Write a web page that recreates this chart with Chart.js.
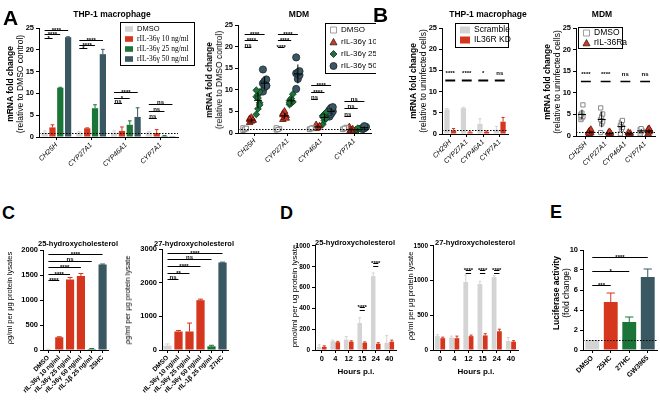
<!DOCTYPE html>
<html>
<head>
<meta charset="utf-8">
<script src="https://cdn.jsdelivr.net/npm/chart.js@4.4.0/dist/chart.umd.min.js"></script>
<style>
body { margin: 0; width: 660px; height: 403px; position: relative; overflow: hidden; background: #fff;
       font-family: 'Liberation Sans', Arial, sans-serif; color: #000; }
canvas { position: absolute; }
.t { position: absolute; white-space: nowrap; }
.letter { font-weight: bold; line-height: 20px; }
.title { font-weight: bold; font-size: 8.5px; transform: translate(-50%, -50%); }
.vl { transform: translate(-50%, -50%) rotate(-90deg); text-align: center; font-size: 8.5px; line-height: 10px; }
</style>
</head>
<body>
<script>
// ---------- data ----------
const genes = ['CH25H', 'CYP27A1', 'CYP46A1', 'CYP7A1'];

// A: THP-1 macrophage, mean and error
const thpDmso = [1, 1, 1, 1];
const thpDmsoErr = [0.4, 0.2, 0.4, 0.2];
const thp10 = [2.2, 2.0, 1.4, 0.9];
const thp10Err = [0.6, 0.1, 0.9, 0.8];
const thp25 = [11.3, 6.6, 2.8, 0.25];
const thp25Err = [0.1, 0.8, 0.9, 0.1];
const thp50 = [22.9, 19.0, 4.6, 0.05];
const thp50Err = [0.1, 1.1, 2.1, 0];

// A: MDM donors, one list per gene
const mdmDmso = [[0.6, 0.8, 1.0, 1.2, 0.9, 1.1], [0.7, 0.9, 1.0, 1.2, 0.8], [0.8, 1.0, 1.2, 0.9, 1.1], [0.8, 1.0, 1.3, 0.9, 1.1]];
const mdm10 = [[2.4, 2.7, 3.0, 3.3, 3.6, 2.9, 3.1], [3.1, 3.6, 4.0, 4.5, 5.0, 3.4, 4.2], [1.0, 1.3, 1.6, 1.9, 1.2], [0.2, 0.5, 0.9, 1.4, 0.7]];
const mdm25 = [[4.3, 5.6, 7.0, 8.4, 8.8, 9.5, 9.9, 8.1, 6.5], [6.6, 6.9, 7.2, 7.5, 8.0, 9.0, 7.0], [2.0, 2.9, 3.4, 4.0, 4.4, 4.8, 3.7], [0.4, 0.7, 1.0, 0.8, 1.1]];
const mdm50 = [[9.6, 10.6, 11.0, 11.5, 12.0, 12.4, 14.7, 11.2, 10.9], [10.2, 12.5, 13.4, 13.8, 14.0, 14.3, 17.5], [3.8, 4.4, 5.0, 5.3, 5.8, 6.0, 4.8], [0.9, 1.1, 1.4, 1.2, 1.6]];

// B: THP-1 knockdown
const kdScr = [5.8, 6.1, 2.4, 1.0];
const kdScrErr = [0.2, 0.2, 1.2, 0.8];
const kdKd = [0.7, 0.4, 0.5, 2.9];
const kdKdErr = [0.6, 0.1, 0.2, 1.0];
const kdSig = ['****', '****', '*', 'ns'];

// B: MDM with IL-36Ra
const raDmso = [[3.8, 4.2, 4.5, 5.0, 5.3, 7.2, 4.8], [0.8, 2.8, 3.3, 3.8, 4.5, 5.1, 6.5], [0.5, 1.5, 2.0, 2.5, 3.2, 3.6], [0.5, 1.0, 1.2, 1.5, 1.7]];
const raRa = [[0.3, 0.5, 0.8, 1.0, 1.2, 1.5, 0.7], [0.2, 0.4, 0.6, 0.8, 1.0], [0.2, 0.4, 0.6, 0.8], [0.5, 0.9, 1.2, 1.5, 1.7]];
const raSig = ['****', '****', 'ns', 'ns'];

// C: oxysterol levels
const c25Labels = ['DMSO', 'rIL-36γ 10 ng/ml', 'rIL-36γ 25 ng/ml', 'rIL-36γ 50 ng/ml', 'rIL-1β 25 ng/ml', '25HC'];
const c25Vals = [10, 255, 1410, 1480, 20, 1710];
const c25Err = [5, 10, 40, 50, 10, 10];
const c25Sig = ['****', '****', '****', 'ns', '****'];
const c25SigY = [1400, 1530, 1660, 1790, 1920];
const c27Labels = ['DMSO', 'rIL-36γ 10 ng/ml', 'rIL-36γ 25 ng/ml', 'rIL-36γ 50 ng/ml', 'rIL-1β 25 ng/ml', '27HC'];
const c27Vals = [130, 550, 550, 1480, 110, 2600];
const c27Err = [50, 30, 250, 30, 30, 10];
const c27Sig = ['ns', '**', '****', 'ns', '****'];
const c27SigY = [2110, 2300, 2490, 2690, 2880];

// D: time course
const hours = ['0', '4', '12', '15', '24', '40'];
const d25Scr = [30, 85, 100, 260, 710, 70];
const d25ScrErr = [20, 10, 30, 50, 30, 70];
const d25Kd = [30, 75, 80, 70, 60, 80];
const d25KdErr = [10, 8, 8, 8, 10, 15];
const d27Scr = [200, 180, 980, 950, 1050, 130];
const d27ScrErr = [20, 20, 100, 40, 20, 50];
const d27Kd = [170, 170, 200, 210, 270, 120];
const d27KdErr = [15, 30, 15, 25, 30, 15];

// E: luciferase
const eLabels = ['DMSO', '25HC', '27HC', 'GW3965'];
const eVals = [1, 4.8, 2.8, 7.3];
const eErr = [0, 0.9, 0.5, 0.8];
const eSig = ['***', '*', '****'];
const eSigY = [6.5, 7.9, 9.3];

// ---------- style ----------
const GRAY = '#d4d4d4', RED = '#d6361d', GREEN = '#1c7538', SLATE = '#3a5862';
const FONT = "'Liberation Sans', Arial, sans-serif";
Chart.defaults.font.family = FONT;
Chart.defaults.font.size = 7.5;
Chart.defaults.color = '#000';

const numFont = { size: 7.5, weight: 'bold' };
const smallNum = { size: 6.5, weight: 'bold' };
const geneFont = { size: 7, style: 'italic' };

function text(html, x, y, cls, style) {
    const d = document.createElement('div');
    d.className = 't ' + cls;
    d.innerHTML = html;
    d.style.left = x + 'px';
    d.style.top = y + 'px';
    if (style) d.style.cssText += style;
    document.body.appendChild(d);
}

function drawSym(ctx, sym, x, y, color, s) {
    ctx.beginPath();
    if (sym === 'bar') {
        ctx.fillStyle = color;
        ctx.fillRect(x, y - s * 0.35, s, s * 0.7);
        return;
    }
    const cx = x + s / 2, r = s / 2;
    if (sym === 'square') ctx.rect(cx - r + 0.5, y - r + 0.5, s - 1, s - 1);
    if (sym === 'tri') { ctx.moveTo(cx, y - r); ctx.lineTo(cx + r, y + r * 0.8); ctx.lineTo(cx - r, y + r * 0.8); ctx.closePath(); }
    if (sym === 'dia') { ctx.moveTo(cx, y - r); ctx.lineTo(cx + r, y); ctx.lineTo(cx, y + r); ctx.lineTo(cx - r, y); ctx.closePath(); }
    if (sym === 'circ') ctx.arc(cx, y, r, 0, Math.PI * 2);
    ctx.fillStyle = sym === 'square' ? '#fff' : color;
    ctx.strokeStyle = sym === 'square' ? '#888' : '#222';
    ctx.lineWidth = 0.8;
    ctx.fill();
    ctx.stroke();
}

// error bars, mean/sd marks, dotted reference line, significance bars, boxed legend
const extras = {
    id: 'extras',
    afterDatasetsDraw(chart, args, o) {
        const ctx = chart.ctx, xs = chart.scales.x, ys = chart.scales.y, ca = chart.chartArea;
        ctx.save();
        ctx.lineWidth = 1;
        chart.data.datasets.forEach((ds, di) => {
            if (!ds.err) return;
            chart.getDatasetMeta(di).data.forEach((el, i) => {
                const e = ds.err[i];
                if (!e) return;
                const col = Array.isArray(ds.backgroundColor) ? ds.backgroundColor[i] : ds.backgroundColor;
                const top = ys.getPixelForValue(ds.data[i] + e);
                const w = Math.max(1.5, el.width * 0.3);
                ctx.strokeStyle = col;
                ctx.beginPath();
                ctx.moveTo(el.x, el.y);
                ctx.lineTo(el.x, top);
                ctx.moveTo(el.x - w, top);
                ctx.lineTo(el.x + w, top);
                ctx.stroke();
            });
        });
        (o.stats || []).forEach(g => {
            const n = g.vals.length, m = g.vals.reduce((a, b) => a + b, 0) / n;
            const sd = Math.sqrt(g.vals.reduce((a, b) => a + (b - m) ** 2, 0) / (n - 1));
            const px = xs.getPixelForValue(g.x);
            ctx.strokeStyle = '#000';
            ctx.beginPath();
            ctx.moveTo(px, ys.getPixelForValue(m - sd));
            ctx.lineTo(px, ys.getPixelForValue(m + sd));
            ctx.moveTo(px - 4, ys.getPixelForValue(m));
            ctx.lineTo(px + 4, ys.getPixelForValue(m));
            ctx.stroke();
        });
        if (o.ref != null) {
            const py = Math.round(ys.getPixelForValue(o.ref)) + 0.5;
            ctx.strokeStyle = '#000';
            ctx.setLineDash([1.5, 1.5]);
            ctx.beginPath();
            ctx.moveTo(ca.left, py);
            ctx.lineTo(ca.right, py);
            ctx.stroke();
            ctx.setLineDash([]);
        }
        ctx.font = 'bold ' + (o.sigSize || 6) + 'px ' + FONT;
        ctx.textAlign = 'center';
        ctx.textBaseline = 'alphabetic';
        ctx.fillStyle = '#000';
        (o.sig || []).forEach(([a, b, v, lab, lv]) => {
            const x1 = xs.getPixelForValue(a), x2 = xs.getPixelForValue(b);
            const py = Math.round(ys.getPixelForValue(v)) + 0.5;
            ctx.strokeStyle = '#000';
            ctx.lineWidth = o.sigWidth || 1;
            ctx.beginPath();
            ctx.moveTo(x1, py);
            ctx.lineTo(x2, py);
            ctx.stroke();
            if (!lab) return;
            const ty = lv != null ? ys.getPixelForValue(lv) : py - 1 + (lab.includes('*') ? 2 : 0);
            ctx.fillText(lab, (x1 + x2) / 2, ty);
        });
        ctx.restore();
    },
    afterDraw(chart, args, o) {
        const L = o.legend;
        if (!L) return;
        const ctx = chart.ctx, x0 = L.x - o.ox, y0 = L.y - o.oy;
        ctx.save();
        ctx.fillStyle = '#fff';
        ctx.fillRect(x0, y0, L.w, L.h);
        ctx.strokeStyle = '#000';
        ctx.lineWidth = 1;
        ctx.strokeRect(x0 + 0.5, y0 + 0.5, L.w, L.h);
        L.items.forEach((it, i) => {
            const cy = y0 + L.pad + L.gap * (i + 0.5);
            drawSym(ctx, it.sym, x0 + 5, cy, it.color, L.s);
            let tx = x0 + 5 + L.s + 4;
            ctx.textBaseline = 'middle';
            ctx.textAlign = 'left';
            ctx.fillStyle = '#000';
            (Array.isArray(it.text) ? it.text : [{ t: it.text }]).forEach(p => {
                ctx.font = (p.i ? 'italic ' : '') + L.fs + 'px ' + (it.serif ? "'Liberation Serif', serif" : FONT);
                ctx.fillText(p.t, tx, cy);
                tx += ctx.measureText(p.t).width;
            });
        });
        ctx.restore();
    }
};
Chart.register(extras);

function yScale(max, step, font) {
    return {
        min: 0, max,
        ticks: { stepSize: step, font: font || numFont, padding: 2, callback: v => String(v) },
        grid: { drawOnChartArea: false, tickLength: 3, color: '#000' },
        border: { color: '#000' }
    };
}

function catScale(rot, font) {
    return {
        ticks: { autoSkip: false, minRotation: rot, maxRotation: rot, font, padding: 1 },
        grid: { drawOnChartArea: false, tickLength: 3, color: '#000', offset: false },
        border: { color: '#000' }
    };
}

function geneLinear() {
    return {
        type: 'linear', min: -0.5, max: 3.5,
        afterBuildTicks: s => { s.ticks = genes.map((g, i) => ({ value: i })); },
        ticks: { autoSkip: false, callback: v => genes[v], minRotation: 45, maxRotation: 45, font: geneFont, padding: 1 },
        grid: { drawOnChartArea: false, tickLength: 3, color: '#000' },
        border: { color: '#000' }
    };
}

// points of one treatment, spread in three columns round their slot
function swarm(groups, off) {
    const pts = [];
    groups.forEach((vals, gi) => vals.forEach((v, j) => pts.push({ x: gi + off + ((j % 3) - 1) * 0.05, y: v })));
    return pts;
}
function statsOf(groups, off) {
    return groups.map((vals, gi) => ({ x: gi + off, vals }));
}

// canvas [left, top, width, height] and plot area [x0, y0, x1, y1], both in page pixels
function makeChart(cv, plot, cfg) {
    const [cl, ct, cw, ch] = cv;
    const c = document.createElement('canvas');
    c.width = cw;
    c.height = ch;
    c.style.left = cl + 'px';
    c.style.top = ct + 'px';
    c.style.width = cw + 'px';
    c.style.height = ch + 'px';
    document.body.appendChild(c);
    const o = cfg.options;
    o.responsive = false;
    o.maintainAspectRatio = false;
    o.animation = false;
    o.events = [];
    o.layout = { padding: { top: plot[1] - ct, right: cl + cw - plot[2], left: 0, bottom: 0 } };
    o.scales.y.afterFit = s => { s.width = plot[0] - cl; };
    o.scales.x.afterFit = s => { s.height = ct + ch - plot[3]; };
    o.plugins = Object.assign({ legend: { display: false }, tooltip: { enabled: false } }, o.plugins);
    o.plugins.extras = Object.assign({ ox: cl, oy: ct }, o.plugins.extras);
    return new Chart(c, cfg);
}

function bars(data, err, color, cat, bar) {
    return { data, err, backgroundColor: color, borderWidth: 0, categoryPercentage: cat, barPercentage: bar };
}

// ---------- A: THP-1 macrophage ----------
const slotA = [-0.34, -0.11, 0.11, 0.34];
const sigA1 = [];
[['****', '****', '*'], ['****', '****', '*'], ['****', '*', 'ns'], ['ns', 'ns', 'ns']].forEach((labs, gi) => {
    const ys = [[24.6, 23.6, 22.7], [22.2, 21.2, 20.3], [10.3, 9.0, 7.7], [7.5, 5.9, 4.3]][gi];
    labs.forEach((lab, k) => sigA1.push([gi + slotA[0], gi + slotA[3 - k], ys[k], lab]));
});
makeChart([0, 18, 200, 150], [39, 28, 178, 137], {
    type: 'bar',
    data: {
        labels: genes,
        datasets: [
            bars(thpDmso, thpDmsoErr, GRAY, 0.9, 0.8),
            bars(thp10, thp10Err, RED, 0.9, 0.8),
            bars(thp25, thp25Err, GREEN, 0.9, 0.8),
            bars(thp50, thp50Err, SLATE, 0.9, 0.8)
        ]
    },
    options: {
        scales: { x: catScale(45, geneFont), y: yScale(25, 5) },
        plugins: {
            extras: {
                ref: 1, sig: sigA1,
                legend: {
                    x: 120, y: 22, w: 74, h: 43, pad: 2, gap: 10, s: 8, fs: 7.5,
                    items: [
                        { sym: 'bar', color: GRAY, text: 'DMSO' },
                        { sym: 'bar', color: RED, text: 'rIL-36γ 10 ng/ml', serif: true },
                        { sym: 'bar', color: GREEN, text: 'rIL-36γ 25 ng/ml', serif: true },
                        { sym: 'bar', color: SLATE, text: 'rIL-36γ 50 ng/ml', serif: true }
                    ]
                }
            }
        }
    }
});

// ---------- A: MDM ----------
const slotM = [-0.3, -0.1, 0.1, 0.3];
const sigA2 = [];
[['****', '****', 'ns'], ['****', '****', '****'], ['****', '****', 'ns'], ['ns', 'ns', 'ns']].forEach((labs, gi) => {
    const ys = [[23, 21.5, 20], [23, 21.5, 20], [11, 9.5, 7.8], [7.5, 5.8, 4.0]][gi];
    labs.forEach((lab, k) => sigA2.push([gi + slotM[0], gi + slotM[3 - k], ys[k], lab]));
});
makeChart([200, 18, 176, 150], [238, 25, 376, 133], {
    type: 'scatter',
    data: {
        datasets: [
            { data: swarm(mdmDmso, slotM[0]), pointStyle: 'rect', pointRadius: 3, backgroundColor: '#fff', borderColor: '#888', borderWidth: 1 },
            { data: swarm(mdm10, slotM[1]), pointStyle: 'triangle', pointRadius: 3.8, backgroundColor: RED, borderColor: '#5a1408', borderWidth: 0.8 },
            { data: swarm(mdm25, slotM[2]), pointStyle: 'rectRot', pointRadius: 3.4, backgroundColor: GREEN, borderColor: '#0b3218', borderWidth: 0.8 },
            { data: swarm(mdm50, slotM[3]), pointStyle: 'circle', pointRadius: 3.6, backgroundColor: SLATE, borderColor: '#1a2a30', borderWidth: 0.8 }
        ]
    },
    options: {
        scales: { x: geneLinear(), y: yScale(25, 5) },
        plugins: {
            extras: {
                ref: 1, sig: sigA2,
                stats: [].concat(statsOf(mdm10, slotM[1]), statsOf(mdm25, slotM[2]), statsOf(mdm50, slotM[3])),
                legend: {
                    x: 325, y: 23, w: 70, h: 50, pad: 1, gap: 12, s: 7, fs: 8,
                    items: [
                        { sym: 'square', color: '#fff', text: 'DMSO' },
                        { sym: 'tri', color: RED, text: 'rIL-36γ 10 ng/ml' },
                        { sym: 'dia', color: GREEN, text: 'rIL-36γ 25 ng/ml' },
                        { sym: 'circ', color: SLATE, text: 'rIL-36γ 50 ng/ml' }
                    ]
                }
            }
        }
    }
});

// ---------- B: THP-1 knockdown ----------
makeChart([376, 18, 136, 150], [442, 28, 508, 134], {
    type: 'bar',
    data: {
        labels: genes,
        datasets: [
            bars(kdScr, kdScrErr, GRAY, 0.8, 0.8),
            bars(kdKd, kdKdErr, RED, 0.8, 0.8)
        ]
    },
    options: {
        scales: { x: catScale(45, geneFont), y: yScale(25, 5) },
        plugins: {
            extras: {
                ref: 1, sigWidth: 2,
                sig: kdSig.map((lab, i) => [i - 0.3, i + 0.3, 12.7, lab, 13.8]),
                legend: {
                    x: 455, y: 23, w: 53, h: 24, pad: 2, gap: 10, s: 10, fs: 8.5,
                    items: [
                        { sym: 'bar', color: GRAY, text: 'Scramble' },
                        { sym: 'bar', color: RED, text: 'IL36R KD' }
                    ]
                }
            }
        }
    }
});

// ---------- B: MDM with IL-36Ra ----------
makeChart([512, 18, 148, 150], [576, 28, 656, 136], {
    type: 'scatter',
    data: {
        datasets: [
            { data: swarm(raDmso, -0.2), pointStyle: 'rect', pointRadius: 3, backgroundColor: '#fff', borderColor: '#888', borderWidth: 1 },
            { data: swarm(raRa, 0.2), pointStyle: 'triangle', pointRadius: 3.8, backgroundColor: RED, borderColor: '#5a1408', borderWidth: 0.8 }
        ]
    },
    options: {
        scales: { x: geneLinear(), y: yScale(25, 5) },
        plugins: {
            extras: {
                ref: 1, sigWidth: 1.5,
                sig: raSig.map((lab, i) => [i - 0.25, i + 0.25, 12.8, lab, 13.8]),
                stats: [].concat(statsOf(raDmso, -0.2), statsOf(raRa, 0.2)),
                legend: {
                    x: 578, y: 27, w: 44, h: 21, pad: 1, gap: 10, s: 7, fs: 8.5,
                    items: [
                        { sym: 'square', color: '#fff', text: 'DMSO' },
                        { sym: 'tri', color: RED, text: 'rIL-36Ra' }
                    ]
                }
            }
        }
    }
});

// ---------- C ----------
const cColors = [GRAY, RED, RED, RED, GREEN, SLATE];
makeChart([0, 240, 112, 163], [43, 250, 108, 350], {
    type: 'bar',
    data: { labels: c25Labels, datasets: [bars(c25Vals, c25Err, cColors, 1, 0.75)] },
    options: {
        scales: { x: catScale(45, { size: 6.5, weight: 'bold' }), y: yScale(2000, 500) },
        plugins: { extras: { sig: c25Sig.map((lab, i) => [0, i + 1, c25SigY[i], lab]) } }
    }
});
makeChart([112, 240, 120, 163], [162, 249, 228, 350], {
    type: 'bar',
    data: { labels: c27Labels, datasets: [bars(c27Vals, c27Err, cColors, 1, 0.75)] },
    options: {
        scales: { x: catScale(45, { size: 6.5, weight: 'bold' }), y: yScale(3000, 1000) },
        plugins: { extras: { sig: c27Sig.map((lab, i) => [0, i + 1, c27SigY[i], lab]) } }
    }
});

// ---------- D ----------
makeChart([240, 240, 160, 130], [315, 241, 396, 350], {
    type: 'bar',
    data: {
        labels: hours,
        datasets: [
            bars(d25Scr, d25ScrErr, GRAY, 0.75, 0.9),
            bars(d25Kd, d25KdErr, RED, 0.75, 0.9)
        ]
    },
    options: {
        scales: { x: catScale(0, numFont), y: yScale(1000, 200, smallNum) },
        plugins: {
            extras: {
                sig: [[2.81, 3.19, 385, ''], [2.81, 3.19, 413, '****'], [3.81, 4.19, 807, ''], [3.81, 4.19, 835, '****']]
            }
        }
    }
});
makeChart([400, 240, 122, 130], [433, 241, 518, 350], {
    type: 'bar',
    data: {
        labels: hours,
        datasets: [
            bars(d27Scr, d27ScrErr, GRAY, 0.75, 0.9),
            bars(d27Kd, d27KdErr, RED, 0.75, 0.9)
        ]
    },
    options: {
        scales: { x: catScale(0, numFont), y: yScale(1500, 500, smallNum) },
        plugins: {
            extras: {
                sig: [2, 3, 4].flatMap(i => [[i - 0.19, i + 0.19, 1115, ''], [i - 0.19, i + 0.19, 1156, '****']]),
                legend: {
                    x: 383, y: 373, w: 54, h: 25, pad: 1, gap: 12, s: 11, fs: 8.5,
                    items: [
                        { sym: 'bar', color: GRAY, text: 'Scramble' },
                        { sym: 'bar', color: RED, text: [{ t: 'IL36R', i: true }, { t: ' KD' }] }
                    ]
                }
            }
        }
    }
});

// ---------- E ----------
makeChart([522, 240, 138, 163], [583, 250, 657, 350], {
    type: 'bar',
    data: { labels: eLabels, datasets: [bars(eVals, eErr, [GRAY, RED, GREEN, SLATE], 1, 0.75)] },
    options: {
        scales: { x: catScale(45, { size: 7, weight: 'bold' }), y: yScale(10, 2) },
        plugins: { extras: { ref: 1, sig: eSig.map((lab, i) => [0, i + 1, eSigY[i], lab]) } }
    }
});

// ---------- text ----------
text('A', 3, 8, 'letter', 'font-size:21px');
text('B', 373, 5, 'letter', 'font-size:21px');
text('C', 2, 203, 'letter', 'font-size:18px');
text('D', 280, 203, 'letter', 'font-size:18px');
text('E', 550, 202, 'letter', 'font-size:18px');

text('THP-1 macrophage', 112, 14, 'title');
text('MDM', 299, 14, 'title');
text('THP-1 macrophage', 488, 14, 'title');
text('MDM', 602, 14, 'title');
text('25-hydroxycholesterol', 78, 243, 'title', 'font-size:7.5px');
text('27-hydroxycholesterol', 194, 243, 'title', 'font-size:7.5px');
text('25-hydroxycholesterol', 355, 242, 'title', 'font-size:7.5px');
text('27-hydroxycholesterol', 475, 242, 'title', 'font-size:7.5px');

text('<b>mRNA fold change</b><br>(relative to DMSO control)', 15, 84, 'vl');
text('<b>mRNA fold change</b><br>(relative to DMSO control)', 214, 80, 'vl');
text('<b>mRNA fold change</b><br>(relative to uninfected cells)', 418, 81, 'vl');
text('<b>mRNA fold change</b><br>(relative to uninfected cells)', 552, 82, 'vl');
text('ρg/ml per μg protein lysates', 10, 298, 'vl', 'font-size:7.5px');
text('ρg/ml per μg protein lysate', 128, 300, 'vl', 'font-size:7.5px');
text('pmol/ml per ug protein lysate', 295, 296, 'vl', 'font-size:8px');
text('ρg/ml per μg protein lysate', 411, 296, 'vl', 'font-size:7.5px');
text('<b>Luciferase activity</b><br>(fold change)', 561, 293, 'vl');

text('Hours p.i.', 356, 371, 'title', 'font-size:8px');
text('Hours p.i.', 476, 371, 'title', 'font-size:8px');
</script>
</body>
</html>
